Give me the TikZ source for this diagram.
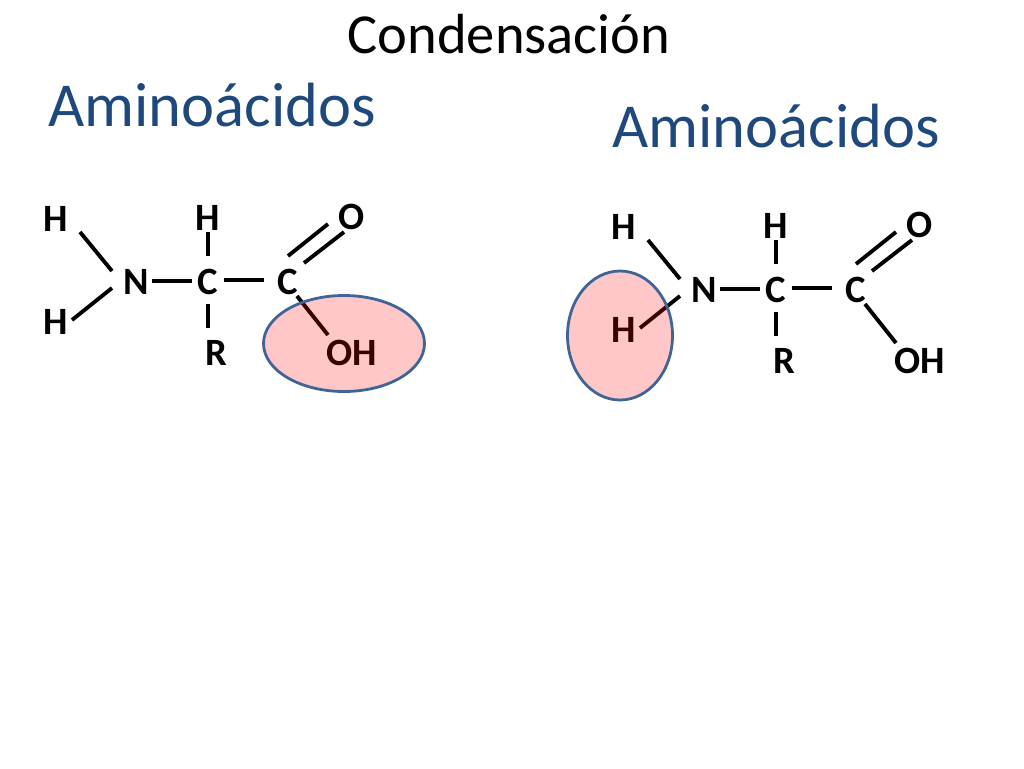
\documentclass[tikz,border=0pt]{standalone}
\usepackage{fontspec}
\setmainfont{Carlito}
\usepackage{xcolor}
\usepackage{tikz}
\definecolor{titleblue}{RGB}{31,73,125}
\definecolor{ringblue}{RGB}{65,100,150}
\tikzset{
	atom/.style={font=\fontsize{29}{32}\selectfont\bfseries,inner sep=0pt,text height=18.7pt,text depth=0pt},
	bond/.style={line width=2.9pt},
	heading/.style={font=\fontsize{46.9}{52}\selectfont,color=titleblue,inner sep=0pt},
	ring/.style={draw=ringblue,line width=2.1pt,fill=red,fill opacity=0.22}
}

\begin{document}
\begin{tikzpicture}[x=0.75pt,y=-0.75pt]
	\useasboundingbox (0,0) rectangle (1024,768);
	% Titles:
	\node [font=\fontsize{42.4}{48}\selectfont,inner sep=0pt] (title) at (509,34) {Condensación};
	\node [heading] (headleft) at (212,105) {Aminoácidos};
	\node [heading] (headright) at (776,126) {Aminoácidos};
	% Both molecules are the same, the second is only moved:
	\foreach \m/\dx/\dy in {a/0/0,b/568/8}{%
		\begin{scope}[shift={(\dx,\dy)}]
			\node [atom] (hone\m) at (56,219) {H};
			\node [atom] (hthree\m) at (56,322) {H};
			\node [atom] (n\m) at (136,282) {N};
			\node [atom] (ca\m) at (208,282) {C};
			\node [atom] (cb\m) at (288,282) {C};
			\node [atom] (htwo\m) at (208,218) {H};
			\node [atom] (r\m) at (216,353) {R};
			\node [atom] (o\m) at (352,217) {O};
			\node [atom] (oh\m) at (352,353) {OH};
			% Bonds stop short of the letters:
			\draw [bond] ([shift={(24,13)}]hone\m.center) -- ([shift={(-24,-11)}]n\m.center);
			\draw [bond] ([shift={(16,-2)}]hthree\m.center) -- ([shift={(-24,6)}]n\m.center);
			\draw [bond] ([shift={(16,-1)}]n\m.center) -- ([shift={(-16,-1)}]ca\m.center);
			\draw [bond] ([shift={(16,-2)}]ca\m.center) -- ([shift={(-24,-2)}]cb\m.center);
			\draw [bond] ([shift={(0,14)}]htwo\m.center) -- ([shift={(0,-26)}]ca\m.center);
			\draw [bond] ([shift={(0,22)}]ca\m.center) -- ([shift={(-8,-25)}]r\m.center);
			\draw [bond] ([shift={(0,-26)}]cb\m.center) -- ([shift={(-24,7)}]o\m.center);
			\draw [bond] ([shift={(16,-19)}]cb\m.center) -- ([shift={(-8,15)}]o\m.center);
			\draw [bond] ([shift={(9,14)}]cb\m.center) -- ([shift={(-24,-18)}]oh\m.center);
		\end{scope}
	}
	% The ellipses lie over the letters, so these turn dark red:
	\path [ring] (344,343.5) circle [x radius=80.5,y radius=48];
	\path [ring] (620,335.5) circle [x radius=52.5,y radius=64.5];
\end{tikzpicture}
\end{document}
